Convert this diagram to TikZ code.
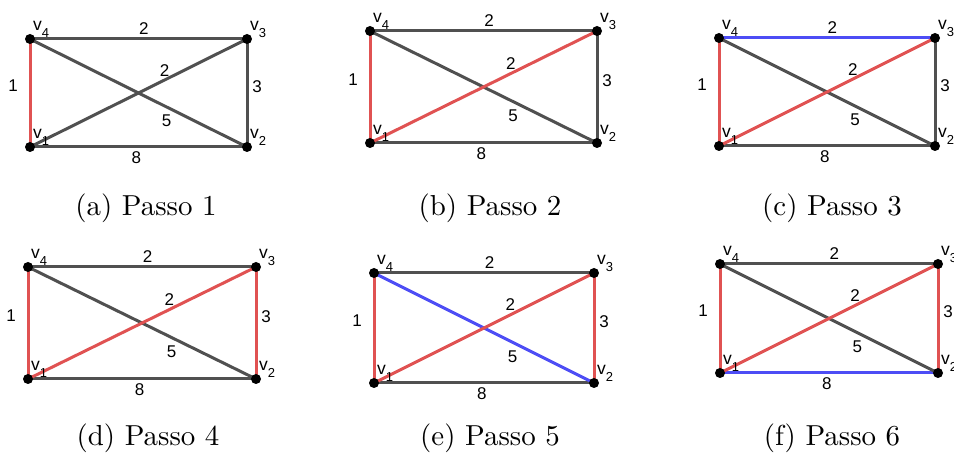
\documentclass[tikz,border=0pt]{standalone}
\usepackage{fontspec}
\newfontfamily\lblfont{Liberation Sans}
\usetikzlibrary{calc}
\definecolor{eg}{HTML}{505050}
\definecolor{er}{HTML}{E05252}
\definecolor{eb}{HTML}{4D4DF5}
\tikzset{
  vdot/.style={circle,fill=black,inner sep=0pt,minimum size=10pt},
  edge/.style={line width=3pt},
  wlbl/.style={font=\lblfont\fontsize{17}{17}\selectfont, inner sep=0pt},
  vlbl/.style={font=\lblfont\fontsize{17.5}{17.5}\selectfont, inner sep=0pt, anchor=base west},
  captxt/.style={font=\fontsize{10}{12}\selectfont, inner sep=0pt, scale=2.89},
  e14/.style={eg}, e43/.style={eg}, e32/.style={eg}, e12/.style={eg}, e13/.style={eg}, e42/.style={eg},
}
\newcommand{\vsub}[1]{v\raisebox{-7pt}{\fontsize{13}{13}\selectfont #1}}
\newcommand{\graphbody}[3]{%
  \coordinate (#1c1) at (0,0);
  \coordinate (#1c2) at (#2,0);
  \coordinate (#1c3) at (#2,#3);
  \coordinate (#1c4) at (0,#3);
  \draw[edge,e43] (#1c4) -- (#1c3);
  \draw[edge,e12] (#1c1) -- (#1c2);
  \draw[edge,e32] (#1c3) -- (#1c2);
  \draw[edge,e14] (#1c1) -- (#1c4);
  \draw[edge,e42] (#1c4) -- (#1c2);
  \draw[edge,e13] (#1c1) -- (#1c3);
  \node[vdot] (#1v1) at (#1c1) {};
  \node[vdot] (#1v2) at (#1c2) {};
  \node[vdot] (#1v3) at (#1c3) {};
  \node[vdot] (#1v4) at (#1c4) {};
  \node[vlbl] (#1l1) at ([shift={(3,8)}]#1c1) {\vsub{1}};
  \node[vlbl] (#1l2) at ([shift={(3,8)}]#1c2) {\vsub{2}};
  \node[vlbl] (#1l3) at ([shift={(3,8)}]#1c3) {\vsub{3}};
  \node[vlbl] (#1l4) at ([shift={(3,8)}]#1c4) {\vsub{4}};
  \node[wlbl] (#1w43) at ({0.525*#2},{#3+10}) {2};
  \node[wlbl] (#1w14) at (-17,{0.57*#3}) {1};
  \node[wlbl] (#1w32) at ({#2+10},{0.56*#3}) {3};
  \node[wlbl] (#1w12) at ({0.49*#2},-11) {8};
  \node[wlbl] (#1w13) at ({0.62*#2},{0.71*#3}) {2};
  \node[wlbl] (#1w42) at ({0.63*#2},{0.24*#3}) {5};
}
\begin{document}
\begin{tikzpicture}[x=1pt,y=1pt]
\useasboundingbox (0,0) rectangle (954,460);
% (a)
\begin{scope}[shift={(30,313)}, e14/.style={er}]
  \graphbody{a}{217}{108}
\end{scope}
% (b)
\begin{scope}[shift={(370,317)}, e14/.style={er}, e13/.style={er}]
  \graphbody{b}{227}{112}
\end{scope}
% (c)
\begin{scope}[shift={(719,314)}, e14/.style={er}, e13/.style={er}, e43/.style={eb}]
  \graphbody{c}{216}{108}
\end{scope}
% (d)
\begin{scope}[shift={(28,81)}, e14/.style={er}, e13/.style={er}, e32/.style={er}]
  \graphbody{d}{228}{112}
\end{scope}
% (e)
\begin{scope}[shift={(374,77)}, e14/.style={er}, e13/.style={er}, e32/.style={er}, e42/.style={eb}]
  \graphbody{e}{220}{110}
\end{scope}
% (f)
\begin{scope}[shift={(720,87)}, e14/.style={er}, e13/.style={er}, e32/.style={er}, e12/.style={eb}]
  \graphbody{f}{218}{109}
\end{scope}
\node[captxt] (capa) at (146,252) {(a) Passo 1};
\node[captxt] (capb) at (490,252) {(b) Passo 2};
\node[captxt] (capc) at (832,252) {(c) Passo 3};
\node[captxt] (capd) at (148,22) {(d) Passo 4};
\node[captxt] (cape) at (490,22) {(e) Passo 5};
\node[captxt] (capf) at (832,22) {(f) Passo 6};
\end{tikzpicture}
\end{document}
